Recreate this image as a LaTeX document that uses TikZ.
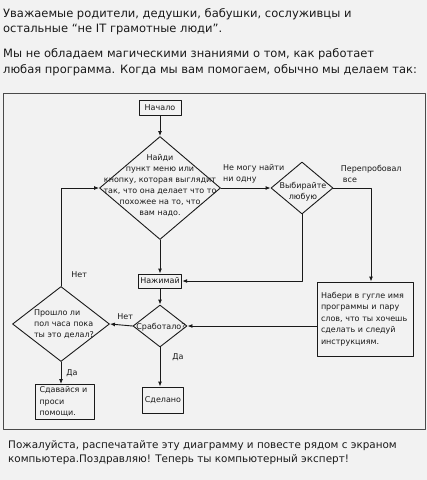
\documentclass[tikz,border=0pt]{standalone}
\usepackage{fontspec}
\setmainfont{DejaVu Sans}
\usepackage{tikz}
\usetikzlibrary{arrows.meta,positioning,shapes.geometric}
\definecolor{pagegray}{HTML}{F2F2F2}
\definecolor{framegray}{HTML}{4A4A4A}
\definecolor{inkblack}{HTML}{1A1A1A}
\tikzset{
  every picture/.append style={line cap=round,line join=round},
  flow box/.style={draw=inkblack,line width=0.9pt,font=\fontsize{8}{11.5}\selectfont,inner sep=2pt,text=inkblack},
  flow diamond/.style={draw=inkblack,line width=0.9pt,diamond,inner sep=0pt},
  flow text/.style={font=\fontsize{8}{11}\selectfont,align=center,text=inkblack,inner sep=0pt},
  flow arrow/.style={inkblack,line width=0.9pt,-{Latex[length=5pt,width=4pt]}},
  flow note/.style={font=\fontsize{8}{11}\selectfont,align=left,text=inkblack,inner sep=0pt},
  page text/.style={font=\fontsize{11.5}{14}\selectfont,text=inkblack,inner sep=0pt,anchor=base west},
  foot text/.style={font=\fontsize{10.4}{12}\selectfont,text=inkblack,inner sep=0pt,anchor=base west}
}

\begin{document}
\begin{tikzpicture}[x=1pt,y=-1pt]
\useasboundingbox (0,0) rectangle (427,480);
\fill[pagegray] (0,0) rectangle (427,480);
\node[page text] (intro1) at (3,17) {Уважаемые родители, дедушки, бабушки, сослуживцы и};
\node[page text] (intro2) at (3,32) {остальные “не IT грамотные люди”.};
\node[page text] (intro3) at (3,57) {Мы не обладаем магическими знаниями о том, как работает};
\node[page text] (intro4) at (3,73) {любая программа. Когда мы вам помогаем, обычно мы делаем так:};
\draw[framegray,line width=1pt] (3,93) rectangle (425,429);
\node[foot text] (outro1) at (8,448) {Пожалуйста, распечатайте эту диаграмму и повесте рядом с экраном};
\node[foot text] (outro2) at (8,462) {компьютера.Поздравляю! Теперь ты компьютерный эксперт!};

\node[flow box,minimum width=42pt,minimum height=15pt] (start) at (160,108) {Начало};
\node[flow diamond,minimum width=121pt,minimum height=103pt] (find) at (160,188) {};
\node[flow text] (findtxt) at (160,186) {Найди\\пункт меню или\\кнопку, которая выглядит\\так, что она делает что то\\похожее на то, что\\вам надо.};
\node[flow diamond,minimum width=62pt,minimum height=52pt] (pick) at (302,188) {};
\node[flow text] (picktxt) at (303,192) {Выбирайте\\любую};
\node[flow box,minimum width=41pt,minimum height=14pt] (press) at (160,281) {Нажимай};
\node[flow diamond,minimum width=54pt,minimum height=42pt] (works) at (160,326) {};
\node[flow text] (workstxt) at (161,327) {Сработало?};
\node[flow box,text width=88pt,minimum height=74pt,inner xsep=4pt,align=left] (google) at (365,319)
  {Набери в гугле имя\\программы и пару\\слов, что ты хочешь\\сделать и следуй\\инструкциям.};
\node[flow diamond,minimum width=97pt,minimum height=75pt] (time) at (61,324) {};
\node[flow text,align=left] (timetxt) at (64,324) {Прошло ли\\пол часа пока\\ты это делал?};
\node[flow box,text width=51pt,minimum height=35pt,inner xsep=4pt,inner ysep=1pt,align=left] (giveup) at (65,402)
  {Сдавайся и\\проси\\помощи.};
\node[flow box,minimum width=37pt,minimum height=26pt] (done) at (163,400) {Сделано};

\draw[flow arrow] (start) -- (find);
\draw[flow arrow] (find.east) -- node[flow note,above=4pt,xshift=8pt] {Не могу найти\\ни одну} (pick.west);
\draw[flow arrow] (pick.east) -| ([xshift=6pt]google.north)
  node[flow note,at start,anchor=south west,xshift=7pt,yshift=5pt] {Перепробовал\\\hspace{2pt}все};
\draw[flow arrow] (pick.south) |- (press.east);
\draw[flow arrow] (find.south) -- (press.north);
\draw[flow arrow] (press.south) -- (works.north);
\draw[flow arrow] (google.west |- works.east) -- (works.east);
\draw[flow arrow] (works.west) -- node[flow note,above=5pt,xshift=4pt] {Нет} (time.east);
\draw[flow arrow] (works.south) -- node[flow note,pos=0.25,right=12pt] {Да} (works.south |- done.north);
\draw[flow arrow] (time.south) -- node[flow note,pos=0.5,right=5pt] {Да} (time.south |- giveup.north);
\draw[flow arrow] (time.north) |- node[flow note,pos=0.06,right=10pt] {Нет} (find.west);
\end{tikzpicture}
\end{document}
